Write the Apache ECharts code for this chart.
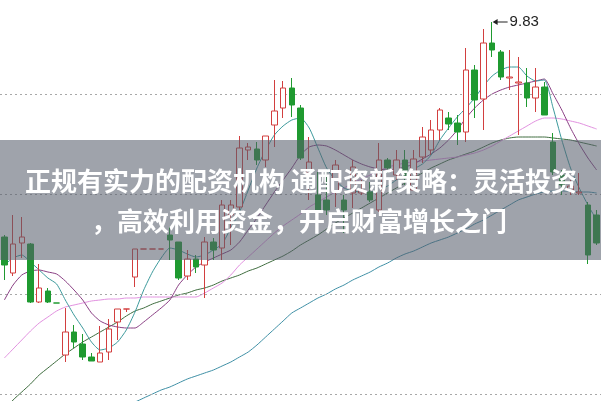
<!DOCTYPE html>
<html>
<head>
<meta charset="utf-8">
<script src="https://cdn.jsdelivr.net/npm/echarts@6/dist/echarts.min.js"></script>
<style>
html,body{margin:0;padding:0;background:#fff;}
#c{width:601px;height:401px;}
</style>
</head>
<body>
<div id="c"></div>
<script>
// [open, close, low, high]
var candles = [
[8.755,8.615,8.54,8.765],[8.575,8.72,8.56,8.865],[8.725,8.755,8.65,8.855],[8.72,8.43,8.425,8.725],
[8.43,8.50,8.425,8.62],[8.485,8.43,8.425,8.50],[8.425,8.425,8.425,8.425],[8.165,8.28,8.13,8.40],
[8.28,8.23,8.20,8.315],[8.22,8.155,8.14,8.27],[8.155,8.135,8.135,8.175],[8.13,8.175,8.13,8.31],
[8.18,8.295,8.14,8.345],[8.33,8.395,8.24,8.395],[8.395,8.395,8.38,8.395],[8.555,8.695,8.505,8.695],
[8.695,8.695,8.695,8.695],[8.695,8.695,8.695,8.695],[8.695,8.695,8.695,8.695],[8.765,8.74,8.64,8.805],
[8.73,8.55,8.54,8.73],[8.56,8.645,8.54,8.69],[8.645,8.605,8.575,8.665],[8.615,8.73,8.45,8.755],
[8.73,8.69,8.64,8.75],[8.70,8.915,8.64,8.94],[8.865,8.915,8.715,8.94],[8.905,9.20,8.89,9.26],
[9.19,9.205,9.14,9.225],[9.195,9.14,9.115,9.23],[9.14,9.26,9.105,9.26],[9.315,9.385,9.205,9.54],
[9.40,9.50,9.35,9.535],[9.50,9.415,9.355,9.55],[9.40,9.15,9.14,9.415],[9.075,9.13,8.94,9.255],
[8.965,8.89,8.88,9.08],[8.94,8.89,8.865,9.09],[8.98,9.115,8.905,9.14],[8.94,8.89,8.775,8.965],
[8.975,9.105,8.90,9.14],[8.975,8.99,8.965,9.04],[8.98,8.94,8.93,9.03],[8.89,9.14,8.88,9.225],
[9.14,9.10,9.075,9.15],[9.065,9.14,9.04,9.19],[9.14,9.05,9.015,9.19],[8.99,9.145,8.99,9.19],
[9.155,9.255,9.125,9.305],[9.19,9.29,9.165,9.34],[9.29,9.39,9.24,9.40],[9.35,9.32,9.29,9.38],
[9.325,9.28,9.215,9.365],[9.28,9.59,9.23,9.70],[9.59,9.44,9.35,9.615],[9.445,9.725,9.29,9.795],
[9.725,9.69,9.655,9.83],[9.68,9.555,9.54,9.69],[9.55,9.555,9.49,9.69],[9.525,9.53,9.265,9.655],
[9.525,9.45,9.405,9.60],[9.45,9.505,9.38,9.60],[9.505,9.365,9.365,9.53],[9.23,9.08,9.065,9.275],
[9.065,9.015,8.965,9.09],[8.99,9.01,8.965,9.04],[8.975,8.98,8.965,9.075],[8.915,8.665,8.62,8.93],
[8.865,8.725,8.715,8.89]
];
var ma5 = [8.615,8.65,8.665,8.63,8.59,8.55,8.52,8.44,8.365,8.30,8.23,8.19,8.20,8.23,8.29,8.38,8.49,8.58,8.65,8.70,
8.69,8.67,8.655,8.665,8.69,8.72,8.80,8.88,8.99,9.10,9.19,9.265,9.31,9.34,9.35,9.30,9.20,9.10,9.04,9.00,
8.985,8.98,8.98,8.99,9.01,9.04,9.07,9.095,9.12,9.165,9.24,9.30,9.355,9.40,9.45,9.51,9.56,9.59,9.605,9.605,
9.56,9.535,9.54,9.40,9.24,9.10,9.00,8.915,8.84];
var ma10 = [8.44,8.515,8.565,8.585,8.59,8.58,8.57,8.535,8.49,8.44,8.375,8.335,8.315,8.305,8.30,8.30,8.33,8.365,8.40,8.44,
8.515,8.565,8.605,8.63,8.65,8.67,8.69,8.73,8.79,8.85,8.915,8.98,9.04,9.10,9.165,9.205,9.215,9.21,9.19,9.165,
9.14,9.12,9.105,9.095,9.09,9.095,9.105,9.12,9.145,9.17,9.20,9.24,9.29,9.35,9.40,9.44,9.47,9.49,9.505,9.515,
9.525,9.535,9.545,9.47,9.39,9.30,9.22,9.15,9.09];
var ma20 = [8.15,8.195,8.24,8.285,8.325,8.355,8.385,8.405,8.415,8.425,8.435,8.44,8.445,8.445,8.45,8.45,8.455,8.455,8.455,8.455,
8.455,8.455,8.455,8.475,8.50,8.525,8.565,8.615,8.655,8.695,8.735,8.775,8.81,8.84,8.87,8.905,8.93,8.955,8.98,9.00,
9.025,9.045,9.065,9.085,9.105,9.115,9.125,9.13,9.135,9.14,9.145,9.15,9.155,9.165,9.175,9.19,9.21,9.235,9.26,9.285,
9.31,9.335,9.35,9.35,9.345,9.335,9.325,9.31,9.295];
var ma30 = [7.89,7.94,7.98,8.02,8.065,8.10,8.135,8.17,8.20,8.23,8.255,8.28,8.305,8.33,8.36,8.385,8.40,8.42,8.435,8.45,
8.465,8.475,8.49,8.50,8.515,8.535,8.55,8.565,8.585,8.60,8.62,8.64,8.66,8.685,8.715,8.74,8.765,8.795,8.825,8.85,
8.875,8.90,8.925,8.95,8.975,9.00,9.025,9.05,9.075,9.10,9.12,9.14,9.155,9.17,9.185,9.205,9.225,9.24,9.25,9.255,
9.255,9.255,9.255,9.25,9.245,9.24,9.23,9.22,9.21];
var ma60 = [7.64,7.66,7.68,7.70,7.72,7.74,7.76,7.78,7.80,7.82,7.84,7.86,7.88,7.90,7.92,7.93,7.95,7.97,7.99,8.005,
8.025,8.045,8.06,8.075,8.09,8.11,8.13,8.155,8.18,8.215,8.255,8.295,8.335,8.375,8.40,8.425,8.45,8.47,8.495,8.515,
8.54,8.56,8.58,8.605,8.625,8.65,8.67,8.685,8.705,8.725,8.74,8.755,8.775,8.795,8.82,8.84,8.865,8.89,8.915,8.94,
8.955,8.97,8.98,8.985,8.985,8.985,8.98,8.98,8.975];
var gridLevels = [7.975, 8.475, 8.975, 9.475];
var highLabel = '9.83';
var titleLine1 = '正规有实力的配资机构 通配资新策略：灵活投资';
var titleLine2 = '，高效利用资金，开启财富增长之门';

var days = candles.map(function(_, i){ return 'D' + (i + 1); });
var highIndex = 0, highValue = -Infinity;
candles.forEach(function(c, i){ if (c[3] > highValue) { highValue = c[3]; highIndex = i; } });

var chart = echarts.init(document.getElementById('c'), null, {renderer: 'canvas'});
function maSeries(name, data, color, z) {
  return {name: name, type: 'line', data: data, showSymbol: false, smooth: 0.2,
    lineStyle: {color: color, width: 1}, z: z, silent: true, animation: false};
}
chart.setOption({
  animation: false,
  backgroundColor: '#fff',
  grid: {left: -0.4, right: -3.2, top: 0, bottom: 0},
  xAxis: {type: 'category', data: days, boundaryGap: true, show: false},
  yAxis: {type: 'value', min: 7.935, max: 9.94, show: false, splitLine: {show: false}},
  series: [
    {type: 'line', data: [], z: 1, silent: true,
     markLine: {silent: true, symbol: 'none', label: {show: false},
       lineStyle: {color: '#a8a8a8', type: [2, 3], width: 1},
       data: gridLevels.map(function(v){ return {yAxis: v}; })}},
    maSeries('MA60', ma60, '#3f90a6', 3),
    maSeries('MA30', ma30, '#3f6d3f', 3),
    maSeries('MA20', ma20, '#e291e0', 3),
    maSeries('MA10', ma10, '#8a3f84', 3),
    maSeries('MA5', ma5, '#3c9a9c', 3),
    {type: 'candlestick', data: candles, barWidth: 6, z: 5,
     itemStyle: {color: '#ffffff', color0: '#1f9a30', borderColor: '#d23f3f', borderColor0: '#1f9a30', borderWidth: 1},
     markPoint: {
       symbol: 'path://M0,3 L6,0 L6,2.5 L18,2.5 L18,3.5 L6,3.5 L6,6 Z',
       symbolSize: [15, 6], symbolOffset: [8, 0],
       itemStyle: {color: '#222'},
       label: {show: true, position: 'right', distance: 2, formatter: highLabel,
         color: '#222', fontSize: 15, fontFamily: 'Liberation Sans, Arial, sans-serif'},
       data: [{coord: [highIndex, highValue], value: highValue}]
     }}
  ],
  graphic: [
    {type: 'rect', z: 100, shape: {x: 0, y: 140, width: 601, height: 120},
     style: {fill: 'rgba(86,94,108,0.57)'}},
    {type: 'text', z: 101, x: 301, y: 181,
     style: {text: titleLine1, fill: '#fff', font: 'bold 26px "Noto Sans CJK SC"', align: 'center', verticalAlign: 'middle'}},
    {type: 'text', z: 101, x: 299, y: 221,
     style: {text: titleLine2, fill: '#fff', font: 'bold 26px "Noto Sans CJK SC"', align: 'center', verticalAlign: 'middle'}}
  ]
});
</script>
</body>
</html>
